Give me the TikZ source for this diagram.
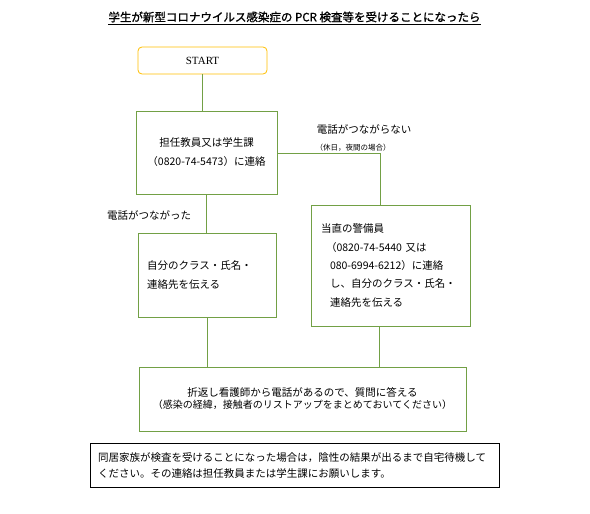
\documentclass[tikz,border=0pt]{standalone}
\usepackage{fontspec}
\newfontfamily\cjk{Noto Sans CJK JP}
\newfontfamily\cjkbold[FakeBold=1.2]{Noto Sans CJK JP}
\newfontfamily\serifen{Liberation Serif}
\definecolor{boxgreen}{HTML}{72A045}
\definecolor{startorange}{HTML}{FFC000}
\tikzset{
  gbox/.style={draw=boxgreen, line width=1pt, rectangle, inner sep=0pt},
  conn/.style={draw=boxgreen, line width=1pt},
  jtext/.style={font=\cjk\fontsize{10.5}{19}\selectfont, inner sep=0pt},
  jsmall/.style={font=\cjk\fontsize{7.5}{9}\selectfont, inner sep=0pt},
}
\begin{document}
\begin{tikzpicture}[x=1pt,y=-1pt]
\useasboundingbox[fill=white] (0,0) rectangle (590,514);
% title
\node[inner sep=0pt, font=\cjkbold\fontsize{11.5}{14}\selectfont] (title) at (294.5,17) {学生が新型コロナウイルス感染症の PCR 検査等を受けることになったら};
\draw[line width=0.8pt] (title.west |- 0,24) -- (title.east |- 0,24);
% start
\node[draw=startorange, line width=0.8pt, rounded corners=4pt, minimum width=129pt, minimum height=27pt, inner sep=0pt, font=\serifen\fontsize{11}{13}\selectfont] (start) at (202.5,60.5) {START};
% box 2
\node[gbox, minimum width=141pt, minimum height=83pt, jtext, align=center] (contact) at (206.5,152.5) {担任教員又は学生課\\（0820-74-5473）に連絡};
% box 3
\node[gbox, minimum width=138pt, minimum height=84pt, jtext, align=left, text width=120pt, inner xsep=9pt] (tell) at (207,275) {自分のクラス・氏名・\\連絡先を伝える};
% box 4
\node[gbox, minimum width=159pt, minimum height=121pt, jtext, align=left, text width=139pt, inner xsep=10pt, font=\cjk\fontsize{10.5}{18.3}\selectfont] (guard) at (390.5,265.5) {当直の警備員\\\hspace*{5pt}（0820-74-5440 又は\\\hspace*{9pt}080-6994-6212）に連絡\\\hspace*{9pt}し、自分のクラス・氏名・\\\hspace*{9pt}連絡先を伝える};
% box 5
\node[gbox, minimum width=327pt, minimum height=64pt, align=center, inner sep=0pt] (nurse) at (302.5,399) {{\cjk\fontsize{10.5}{17}\selectfont 折返し看護師から電話があるので、質問に答える}\\{\cjk\fontsize{10}{17}\selectfont（感染の経緯，接触者のリストアップをまとめておいてください）}};
% box 6
\node[draw=black, line width=1pt, minimum width=409pt, minimum height=44pt, align=left, text width=393pt, inner xsep=8pt, inner ysep=0pt, font=\cjk\fontsize{10.5}{16}\selectfont] (family) at (294.5,465) {同居家族が検査を受けることになった場合は，陰性の結果が出るまで自宅待機して\\ください。その連絡は担任教員または学生課にお願いします。};
% labels
\node[jtext] (nolabel) at (364,129) {電話がつながらない};
\node[jsmall] (nolabel2) at (353,148) {（休日，夜間の場合）};
\node[jtext] (yeslabel) at (149,215) {電話がつながった};
% connectors
\coordinate (turn) at (380,153);
\coordinate (guardout) at (379,326);
\draw[conn] (start.south) -- (start.south |- contact.north);
\draw[conn] (contact.south) -- (contact.south |- tell.north);
\draw[conn] (contact.east |- turn) -- (turn) -- (turn |- guard.north);
\draw[conn] (tell.south) -- (tell.south |- nurse.north);
\draw[conn] (guardout |- guard.south) -- (guardout |- nurse.north);
\end{tikzpicture}
\end{document}
